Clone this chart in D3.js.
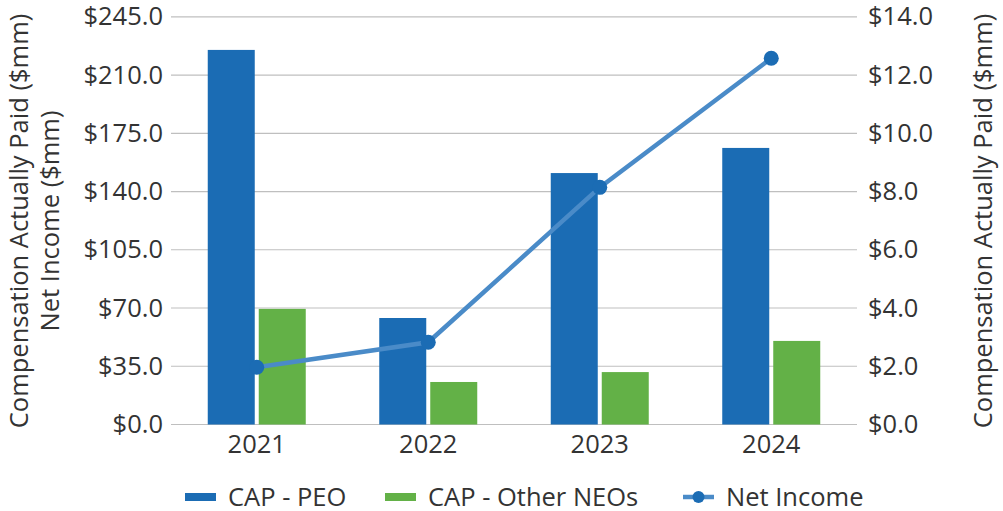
<!DOCTYPE html>
<html><head><meta charset="utf-8">
<script src="https://cdn.jsdelivr.net/npm/d3@7"></script>
<style>body{margin:0;background:#fff}text{font-family:"Open Sans",sans-serif;fill:#333}</style>
</head><body><svg id="c" width="1003" height="511"></svg>
<script>
const years = ["2021","2022","2023","2024"];
const capPEO = [225.1, 64.0, 151.1, 166.2];          // left axis ($mm)
const capNEO = [3.97, 1.46, 1.80, 2.87];             // right axis ($mm)
const netIncome = [34.4, 49.4, 142.5, 220.1];        // left axis ($mm)
const leftTicks = [0, 35, 70, 105, 140, 175, 210, 245];
const rightTicks = [0, 2, 4, 6, 8, 10, 12, 14];
const seriesNames = ["CAP - PEO", "CAP - Other NEOs", "Net Income"];

const C_PEO = "#1b6cb4", C_NEO = "#63b147", C_LINE = "#4a8bc8", C_MARK = "#1b6cb4";
const FS = 25.5;
const svg = d3.select("#c");
const L = 171, R = 857, T = 16.8, B = 424.5;
const x = d3.scaleBand().domain(years).range([L, R]);
const yL = d3.scaleLinear().domain([0, 245]).range([B, T]);
const yR = d3.scaleLinear().domain([0, 14]).range([B, T]);
const barW = 47, gap = 4;

// gridlines
svg.append("g").selectAll("line").data(leftTicks).join("line")
  .attr("x1", L).attr("x2", R).attr("y1", d => yL(d)).attr("y2", d => yL(d))
  .attr("stroke", "#bfbfbf").attr("stroke-width", 1.2);

function styleText(g) {
  g.select(".domain").remove();
  g.selectAll("text").attr("font-size", FS).attr("fill", "#333").style("font-family", '"Open Sans",sans-serif');
}
// left axis
const ax = d3.axisLeft(yL).tickValues(leftTicks).tickSize(0).tickPadding(8).tickFormat(d => "$" + d3.format(".1f")(d));
svg.append("g").attr("transform", `translate(${L},0)`).call(ax).call(styleText);
const axr = d3.axisRight(yR).tickValues(rightTicks).tickSize(0).tickPadding(11).tickFormat(d => "$" + d3.format(".1f")(d));
svg.append("g").attr("transform", `translate(${R},0)`).call(axr).call(styleText);

// x axis
svg.append("g").attr("transform", `translate(0,${B})`).call(d3.axisBottom(x).tickSize(0).tickPadding(10)).call(styleText);

// bars
const cx = d => x(d) + x.bandwidth() / 2;
svg.append("g").selectAll("rect").data(years).join("rect")
  .attr("x", (d) => cx(d) - gap / 2 - barW).attr("width", barW)
  .attr("y", (d, i) => yL(capPEO[i])).attr("height", (d, i) => B - yL(capPEO[i]))
  .attr("fill", C_PEO);
svg.append("g").selectAll("rect").data(years).join("rect")
  .attr("x", (d) => cx(d) + gap / 2).attr("width", barW)
  .attr("y", (d, i) => yR(capNEO[i])).attr("height", (d, i) => B - yR(capNEO[i]))
  .attr("fill", C_NEO);

// line
const line = d3.line().x((d, i) => cx(years[i])).y(d => yL(d));
svg.append("path").datum(netIncome).attr("d", line).attr("fill", "none")
  .attr("stroke", C_LINE).attr("stroke-width", 4.5);
svg.append("g").selectAll("circle").data(netIncome).join("circle")
  .attr("cx", (d, i) => cx(years[i])).attr("cy", d => yL(d)).attr("r", 7.5).attr("fill", C_MARK);

// axis titles
svg.append("text").attr("transform", "translate(28,221) rotate(-90)").attr("text-anchor", "middle")
  .attr("font-size", FS).text("Compensation Actually Paid ($mm)");
svg.append("text").attr("transform", "translate(58.5,221) rotate(-90)").attr("text-anchor", "middle")
  .attr("font-size", FS).text("Net Income ($mm)");
svg.append("text").attr("transform", "translate(992,221) rotate(-90)").attr("text-anchor", "middle")
  .attr("font-size", FS).text("Compensation Actually Paid ($mm)");

// legend
const lg = svg.append("g");
const ly = 497;
const items = [
  {name: seriesNames[0], x: 185, type: "bar", c: C_PEO},
  {name: seriesNames[1], x: 385, type: "bar", c: C_NEO},
  {name: seriesNames[2], x: 683, type: "line", c: C_LINE}
];
items.forEach(it => {
  if (it.type === "bar") {
    lg.append("rect").attr("x", it.x).attr("y", ly - 4).attr("width", 31).attr("height", 8).attr("fill", it.c);
  } else {
    lg.append("line").attr("x1", it.x).attr("x2", it.x + 31).attr("y1", ly).attr("y2", ly).attr("stroke", it.c).attr("stroke-width", 4.5);
    lg.append("circle").attr("cx", it.x + 15.5).attr("cy", ly).attr("r", 6).attr("fill", C_MARK);
  }
  lg.append("text").attr("x", it.x + 43).attr("y", ly).attr("dy", "0.35em").attr("font-size", FS).text(it.name);
});
</script></body></html>
